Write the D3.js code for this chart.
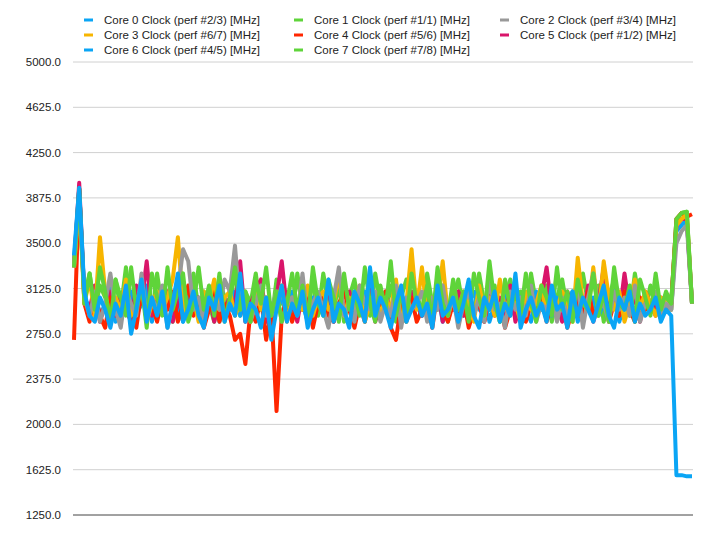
<!DOCTYPE html><html><head><meta charset="utf-8"><script src="https://cdn.jsdelivr.net/npm/d3@7"></script>
<style>body{margin:0;background:#fff}text{font-family:"Helvetica Neue",Arial,"Liberation Sans",sans-serif}</style></head><body><svg id="c" width="716" height="539"></svg><script>
const seriesNames=["Core 0 Clock (perf #2/3) [MHz]","Core 1 Clock (perf #1/1) [MHz]","Core 2 Clock (perf #3/4) [MHz]","Core 3 Clock (perf #6/7) [MHz]","Core 4 Clock (perf #5/6) [MHz]","Core 5 Clock (perf #1/2) [MHz]","Core 6 Clock (perf #4/5) [MHz]","Core 7 Clock (perf #7/8) [MHz]"];
const colors=["#0aa5f5","#5fd43a","#999999","#f7b500","#ff2600","#d9156a","#0aa5f5","#5fd43a"];
const yTicks=[1250,1625,2000,2375,2750,3125,3500,3875,4250,4625,5000];
const core0=[3400,3960,3100,2900,2850,3050,2950,2800,3000,2900,3150,2750,2950,3200,2850,3050,2900,3100,2800,3000,3250,2850,2950,3100,2900,2800,3050,2950,3150,2850,3000,2900,3250,2850,3000,2950,2800,3050,2700,2950,3150,2850,3000,2900,3100,2800,2950,3050,2900,3200,2850,3000,2950,2800,3100,3000,2850,3300,2900,3050,2950,2800,3000,3150,2850,2950,3050,2900,3000,2800,3150,2900,2950,3050,2850,3000,3200,2900,2800,3050,2950,3100,2850,3000,2900,3250,2800,2950,3050,2900,3000,2850,3150,2950,3000,2800,3100,2900,3050,2950,2850,3000,3150,2900,2800,3050,2950,3100,2850,3000,2900,2950,3050,2850,2950,2900,1580,1580,1570,1570];
const core1=[3300,3950,3000,3250,2950,3300,3100,2850,3200,3050,2900,3300,2950,3150,2800,3250,3050,2900,3300,2950,3100,3250,2850,3000,3300,2950,3150,2900,3250,2850,3050,3300,2950,3100,2850,3200,3000,3300,2900,3100,2850,3000,3250,2950,3150,2850,3300,3000,2900,3200,3050,2850,3250,2950,3100,2900,3300,3000,2850,3150,2950,3350,2900,3100,2850,3250,3000,2950,3150,2850,3300,3000,2900,3200,2950,3100,2850,3250,3050,2900,3350,3000,2850,3200,2950,3100,2900,3250,3000,2850,3150,3050,2900,3300,2950,3100,2850,3200,3000,2950,3250,2900,3100,2850,3300,3000,2950,3150,2850,3200,3050,2900,3250,2950,3100,3000,3700,3750,3760,3000];
const core2=[3300,3900,3050,2900,3100,2850,3000,3250,2950,2800,3100,3000,2900,3250,2850,3050,2950,3150,2800,3000,3100,3450,3350,2950,3050,2850,3100,3000,2950,3200,3100,3480,2950,3050,2850,3000,3150,2900,2950,3100,2850,3000,3050,2900,3250,2850,3000,3100,2950,2800,3050,3300,2900,3000,2850,3150,3000,2950,3100,2850,3000,2900,3150,2800,3050,2950,3000,3100,2850,3050,2950,3150,2900,3050,2800,3000,3100,2900,3050,2850,3200,2950,3000,2800,3100,2950,3050,2900,3150,2850,3000,2950,3100,2850,3050,2900,3000,3150,2800,3050,3250,2950,3000,2850,3100,2950,3050,2900,3150,2850,3000,2950,3100,2900,3000,2950,3500,3600,3650,3000];
const core3=[3300,3850,3000,3200,2900,3550,3100,2850,3050,2950,3200,2900,3000,3150,2850,3000,3100,2950,3050,3200,3550,3000,2900,3050,2850,3100,3000,3200,2950,3050,3100,2900,3000,3050,2850,3150,2950,3050,2900,3000,3150,2850,3050,3000,2950,3150,2900,3050,3100,2950,3000,3250,2900,3050,2950,3150,2850,3000,3100,2900,3050,2950,3200,2850,3000,3450,2950,3300,2900,3050,3000,3350,2900,3050,2950,3100,3000,2850,3150,2950,3050,2900,3200,2950,3050,3000,2850,3100,2950,3000,3150,2900,3050,2950,3100,3000,2850,3380,3000,2950,3300,2900,3350,3050,2950,3100,2850,3000,3200,2950,3100,3000,2900,3050,3000,2950,3650,3700,3740,3000];
const core4=[2700,3950,3000,2850,3100,2900,2800,3050,3000,2850,3150,2950,2800,3100,2900,3000,2850,3050,2950,3100,2850,3000,3150,2900,3050,2800,2950,3100,2850,3000,2900,2700,2750,2500,2950,2850,3050,2700,2950,2110,2900,3050,2850,3000,2950,3100,2800,3000,3050,2900,2850,3000,3100,2950,2800,3000,2850,3050,2900,2950,3100,2800,2700,3000,2900,3050,2850,2950,3000,2800,3100,2950,2850,3000,2900,3050,2800,2950,3000,2850,3100,2900,3000,2800,2950,3050,2900,2850,3000,2950,3100,2850,3000,2900,3050,2800,2950,3000,2850,3100,2900,2950,3050,2850,3000,2900,3100,2950,2850,3050,2950,3000,2900,3050,2950,3000,3700,3750,3720,3740];
const core5=[3300,4000,3050,2950,3150,2850,3000,3100,2900,3050,2950,2850,3150,3000,3350,2900,3050,2950,3100,2850,3000,3150,2900,3050,3000,2950,3100,2850,3000,2950,3050,3000,3350,2850,3000,3100,3200,2900,2750,3050,3350,2950,3000,2850,3100,3000,2900,3050,2950,3150,2850,3000,2950,3100,2900,3050,2950,3150,2850,3000,3100,2900,3050,2950,2850,3100,3000,2900,3050,2950,3150,2850,3000,2950,3100,2900,3050,2950,3000,2850,3100,2950,3050,2900,3150,2850,3000,2950,3100,2900,3050,3300,2950,3000,2850,3100,2950,3050,2900,3150,2850,3000,3300,2950,3050,2900,3250,2950,3050,2850,3100,3000,2950,3050,2950,3000,3650,3700,3700,3000];
const core6=[3350,3950,3050,2950,3100,2900,3000,3150,2850,3050,2950,3100,2900,3000,3150,2850,3050,2950,3100,2900,3000,2850,3100,2950,3050,2900,3000,3150,2850,3000,2950,3100,2900,3050,2950,3000,3100,2850,3000,2950,3050,2900,3100,2950,3000,2850,3050,3000,2950,3100,2900,3000,2950,3050,2850,3000,3100,2950,3050,2900,3000,2950,3100,2850,3050,2950,3000,2900,3050,2950,3100,2850,3000,2950,3050,2900,3000,3100,2950,3050,2850,3000,2950,3100,2900,3000,3050,2950,2850,3100,2950,3000,2900,3050,2950,3000,3100,2850,3000,2950,3050,2900,3000,2950,3100,2850,3000,2950,3050,2900,3000,2950,3050,2950,3000,2950,3600,3650,3700,3000];
const core7=[3300,3950,3050,3250,2950,3150,3050,2900,3200,2950,3300,3000,2850,3200,3050,2900,3250,2950,3100,2850,3200,3050,2900,3250,2950,3100,3000,2850,3200,3050,2950,3300,2900,3100,3000,3250,2950,3050,2850,3200,3000,3100,2900,3250,2950,3050,3150,2900,3250,3000,2950,3150,2850,3050,3200,2950,3100,2900,3250,3000,2950,3150,2850,3050,3200,2950,3100,2900,3250,3000,2950,3150,2850,3050,3200,2950,3100,2900,3250,3000,2950,3150,2850,3050,3200,2950,3100,2900,3250,3000,2950,3150,2850,3050,3200,2950,3100,2900,3250,3000,2950,3150,2850,3050,3200,2950,3100,2900,3250,3000,2950,3150,2950,3000,3050,3000,3700,3750,3760,3000];
const series=[core0,core1,core2,core3,core4,core5,core6,core7];
const svg=d3.select("#c");
const x=d3.scaleLinear().domain([0,core0.length-1]).range([74,692]);
const y=d3.scaleLinear().domain([1250,5000]).range([515,62]);
svg.append("g").selectAll("line").data(yTicks).join("line").attr("x1",73).attr("x2",693).attr("y1",d=>y(d)).attr("y2",d=>y(d)).attr("stroke",d=>d===1250?"#444":"#d0d0d0").attr("stroke-width",1);
svg.append("g").selectAll("text").data(yTicks).join("text").attr("x",61).attr("y",d=>y(d)+4).attr("text-anchor","end").attr("font-size",11.5).attr("fill","#222").text(d=>d.toFixed(1));
const line=d3.line().x((d,i)=>x(i)).y(d=>y(d)).curve(d3.curveLinear);
[7,6,5,4,3,2,1,0].forEach(k=>{svg.append("path").attr("d",line(series[k])).attr("fill","none").attr("stroke",colors[k]).attr("stroke-width",4).attr("stroke-linejoin","round");});
const lx=[84,294,500];
seriesNames.forEach((n,i)=>{const g=svg.append("g").attr("transform",`translate(${lx[i%3]},${20+Math.floor(i/3)*15})`);
g.append("line").attr("x1",0).attr("x2",9).attr("stroke",colors[i]).attr("stroke-width",3);
g.append("text").attr("x",20).attr("y",4).attr("font-size",11.5).attr("fill","#222").text(n);});
</script></body></html>
